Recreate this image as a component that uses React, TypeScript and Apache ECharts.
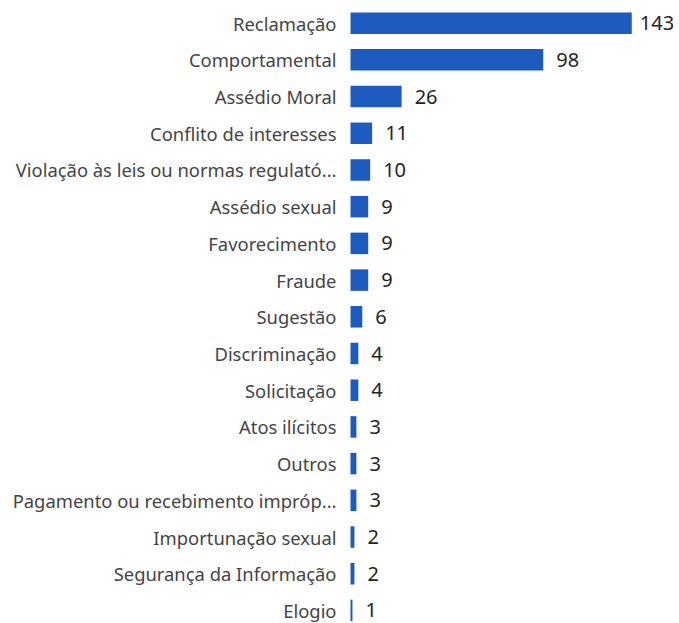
import React, { useEffect, useRef } from "react";
import * as echarts from "echarts";

const categories = [
  "Reclamação",
  "Comportamental",
  "Assédio Moral",
  "Conflito de interesses",
  "Violação às leis ou normas regulató...",
  "Assédio sexual",
  "Favorecimento",
  "Fraude",
  "Sugestão",
  "Discriminação",
  "Solicitação",
  "Atos ilícitos",
  "Outros",
  "Pagamento ou recebimento impróp...",
  "Importunação sexual",
  "Segurança da Informação",
  "Elogio",
];

const values = [143, 98, 26, 11, 10, 9, 9, 9, 6, 4, 4, 3, 3, 3, 2, 2, 1];

export default function App() {
  const ref = useRef<HTMLDivElement>(null);
  useEffect(() => {
    if (!ref.current) return;
    const chart = echarts.init(ref.current, undefined, { renderer: "svg" });
    const maxVal = Math.max(...values);
    const seriesData = values.map((v) =>
      v === maxVal ? { value: v, label: { distance: 8 } } : v
    );
    chart.setOption({
      animation: false,
      backgroundColor: "#ffffff",
      grid: {
        left: 350.5,
        top: 4.8,
        width: 314.7,
        height: 624,
        containLabel: false,
        outerBoundsMode: "none",
      },
      xAxis: {
        type: "value",
        min: 0,
        max: 160,
        show: false,
        splitLine: { show: false },
      },
      yAxis: {
        type: "category",
        data: categories,
        inverse: true,
        axisLine: { show: false },
        axisTick: { show: false },
        splitLine: { show: false },
        axisLabel: {
          margin: 14,
          fontFamily: "'Noto Sans', sans-serif",
          fontSize: 18.4,
          lineHeight: 18,
          color: "#444444",
        },
      },
      series: [
        {
          type: "bar",
          data: seriesData,
          barWidth: 21.5,
          itemStyle: { color: "#1d5bbf" },
          label: {
            show: true,
            position: "right",
            distance: 13,
            offset: [0, -0.5],
            fontFamily: "'Noto Sans', sans-serif",
            fontSize: 20,
            lineHeight: 19,
            color: "#252423",
          },
        },
      ],
    });
    return () => chart.dispose();
  }, []);
  return (
    <div
      ref={ref}
      style={{ position: "fixed", left: 0, top: 0, width: 679, height: 623 }}
    />
  );
}
